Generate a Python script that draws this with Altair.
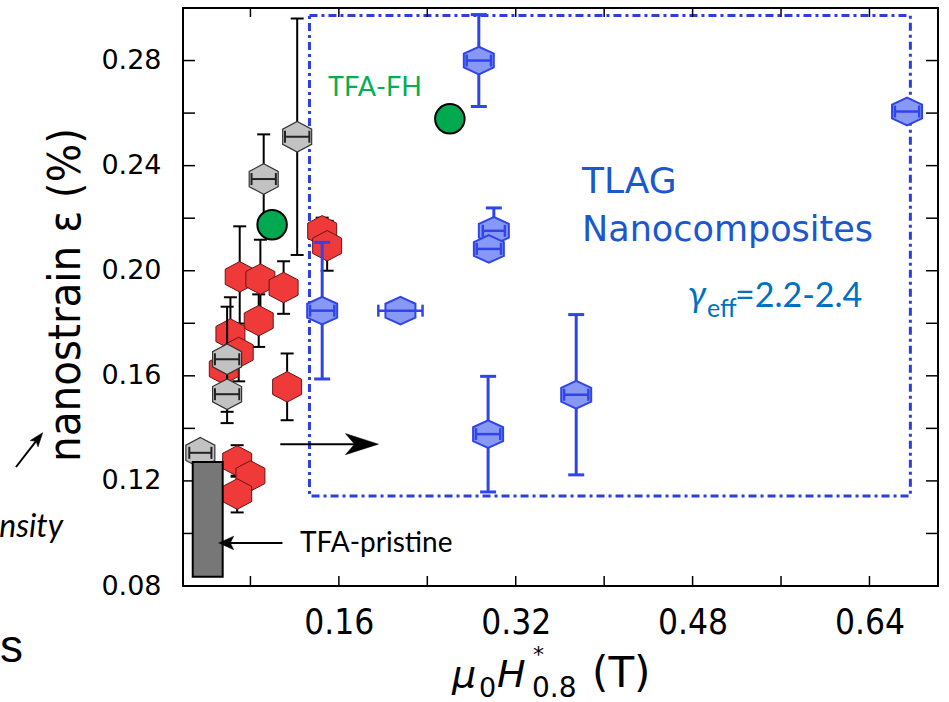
import altair as alt
import pandas as pd

# ---------------- data: mu0*H*_0.8 (T) vs nanostrain (%) ----------------
red_x = [0.0703, 0.0890, 0.1100, 0.1449, 0.1494, 0.0875, 0.0619, 0.0694, 0.0559, 0.1132, 0.0680, 0.0800, 0.0680]
red_y = [0.1977, 0.1968, 0.1936, 0.2152, 0.2095, 0.1810, 0.1759, 0.1689, 0.1626, 0.1558, 0.1276, 0.1219, 0.1150]
red_err = [0.0192, 0.0150, 0.0100, 0.0050, 0.0095, 0.0100, 0.0140, 0.0110, 0.0070, 0.0127, 0.0060, 0.0040, 0.0070]

gray_x = [0.0347, 0.0589, 0.0589, 0.0920, 0.1223]
gray_y = [0.1307, 0.1663, 0.1530, 0.2349, 0.2510]
gray_err = [0.0020, 0.0200, 0.0110, 0.0170, 0.0450]
gray_xerr = [0.010, 0.011, 0.011, 0.011, 0.011]

blue_x = [0.2866, 0.3002, 0.2957, 0.1449, 0.2157, 0.2950, 0.3747, 0.6740]
blue_y = [0.2800, 0.2152, 0.2083, 0.1848, 0.1848, 0.1378, 0.1528, 0.2606]
blue_err = [0.0175, 0.0087, 0.0030, 0.0260, 0.0030, 0.0220, 0.0305, 0.0020]
blue_xerr = [0.011, 0.010, 0.011, 0.011, 0.020, 0.011, 0.011, 0.011]

green_x = [0.0996, 0.2604]
green_y = [0.2175, 0.2578]

pristine_x = [0.0278, 0.0549]
pristine_y = [0.0835, 0.1272]

tlag_box_x = [0.1334, 0.6770]
tlag_box_y = [0.1143, 0.2971]

x_ticks = [0.08, 0.16, 0.24, 0.32, 0.40, 0.48, 0.56, 0.64]
y_ticks = [0.10, 0.12, 0.14, 0.16, 0.18, 0.20, 0.22, 0.24, 0.26, 0.28]
x_labels = [0.16, 0.32, 0.48, 0.64]
y_labels = [0.08, 0.12, 0.16, 0.20, 0.24, 0.28]

# ---------------- layout ----------------
LEFT, TOP, W, H = 183, 8, 755, 578
X_DOM = [0.019, 0.702]
Y_DOM = [0.08, 0.30]
PX_X = W / (X_DOM[1] - X_DOM[0])
PX_Y = H / (Y_DOM[1] - Y_DOM[0])

NARROW = "Liberation Sans Narrow, DejaVu Sans Condensed, Liberation Sans, sans-serif"
WIDE = "DejaVu Sans, sans-serif"
CAL = "Lato, Open Sans, sans-serif"

xs = alt.Scale(domain=X_DOM, nice=False, zero=False)
ys = alt.Scale(domain=Y_DOM, nice=False, zero=False)
x_axis = alt.Axis(values=x_labels, format=".2f", ticks=False, domain=False, grid=False,
                  labelFont=NARROW, labelFontSize=35, labelPadding=19, labelColor="black",
                  title=None)
y_axis = alt.Axis(values=y_labels, format=".2f", ticks=False, domain=False, grid=False,
                  labelFont=WIDE, labelFontSize=27, labelPadding=22, labelColor="black",
                  title=None)


def X(f):
    return alt.X(f, type="quantitative", scale=xs, axis=x_axis)


def Y(f):
    return alt.Y(f, type="quantitative", scale=ys, axis=y_axis)


HEX = "M0,-1L0.95,-0.5L0.95,0.5L0,1L-0.95,0.5L-0.95,-0.5Z"
HEX_FLAT = "M0,-0.92L1,-0.46L1,0.46L0,0.92L-1,0.46L-1,-0.46Z"
RIGHT_HEAD = "M1,0L-1,-0.64L-0.45,0L-1,0.64Z"
LEFT_HEAD = "M-1,0L1,-0.9L0.55,0L1,0.9Z"
UP_HEAD = "M0,-1L0.72,1L0,0.55L-0.72,1Z"


def y_errorbars(xv, yv, ev, color, width, cap_px):
    half = cap_px / 2 / PX_X
    d = pd.DataFrame({"x": xv, "y": yv, "e": ev})
    d["lo"] = d["y"] - d["e"]
    d["hi"] = d["y"] + d["e"]
    d["cl"] = d["x"] - half
    d["cr"] = d["x"] + half
    base = alt.Chart(d)
    out = [base.mark_rule(color=color, strokeWidth=width).encode(x=X("x"), y=Y("lo"), y2="hi")]
    for end in ("lo", "hi"):
        out.append(base.mark_rule(color=color, strokeWidth=width).encode(x=X("cl"), x2="cr", y=Y(end)))
    return out


def x_errorbars(xv, yv, ev, color, width, cap_px):
    half = cap_px / 2 / PX_Y
    d = pd.DataFrame({"x": xv, "y": yv, "e": ev})
    d["lo"] = d["x"] - d["e"]
    d["hi"] = d["x"] + d["e"]
    d["cb"] = d["y"] - half
    d["ct"] = d["y"] + half
    base = alt.Chart(d)
    out = [base.mark_rule(color=color, strokeWidth=width).encode(x=X("lo"), x2="hi", y=Y("y"))]
    for end in ("lo", "hi"):
        out.append(base.mark_rule(color=color, strokeWidth=width).encode(x=X(end), y=Y("cb"), y2="ct"))
    return out


def markers(xv, yv, shape, size, fill, stroke, sw):
    return alt.Chart(pd.DataFrame({"x": xv, "y": yv})).mark_point(
        shape=shape, size=size, filled=True, fill=fill, stroke=stroke,
        strokeWidth=sw, opacity=1, fillOpacity=1, strokeOpacity=1
    ).encode(x=X("x"), y=Y("y"))


def txt(s, x, y, size, font, color="black", style=None, align="left", angle=None):
    kw = dict(fontSize=size, font=font, color=color, align=align, baseline="alphabetic")
    if style:
        kw["fontStyle"] = style
    if angle:
        kw["angle"] = angle
    return alt.Chart(pd.DataFrame({"t": [s]})).mark_text(**kw).encode(
        text="t:N", x=alt.value(x - LEFT), y=alt.value(y - TOP))


layers = []

# dashed frame around the TLAG nanocomposites
layers.append(alt.Chart(pd.DataFrame({"x": [tlag_box_x[0]], "x2": [tlag_box_x[1]],
                                      "y": [tlag_box_y[0]], "y2": [tlag_box_y[1]]}))
              .mark_rect(fillOpacity=0, stroke="#2b3fe0", strokeWidth=3, strokeDash=[8, 4, 3, 4])
              .encode(x=X("x"), x2="x2", y=Y("y"), y2="y2"))

# inward ticks on all four sides
xt = alt.Chart(pd.DataFrame({"v": x_ticks}))
yt = alt.Chart(pd.DataFrame({"v": y_ticks}))
layers += [
    xt.mark_rule(color="black", strokeWidth=1.5).encode(x=X("v"), y=alt.value(H), y2=alt.value(H - 10)),
    xt.mark_rule(color="black", strokeWidth=1.5).encode(x=X("v"), y=alt.value(0), y2=alt.value(9)),
    yt.mark_rule(color="black", strokeWidth=1.5).encode(y=Y("v"), x=alt.value(0), x2=alt.value(12)),
    yt.mark_rule(color="black", strokeWidth=1.5).encode(y=Y("v"), x=alt.value(W), x2=alt.value(W - 12)),
]

# red series
layers += y_errorbars(red_x, red_y, red_err, "black", 2, 13)
layers.append(markers(red_x, red_y, HEX, 930, "#f03a3a", "#6b1414", 1))

# gray series
layers += y_errorbars(gray_x, gray_y, gray_err, "black", 2, 13)
layers.append(markers(gray_x, gray_y, HEX, 930, "#c2c2c2", "#333333", 1.2))
layers += x_errorbars(gray_x, gray_y, gray_xerr, "#222222", 2, 12)

# blue series
layers += y_errorbars(blue_x, blue_y, blue_err, "#2f45e8", 3, 16)
layers.append(markers(blue_x, blue_y, HEX_FLAT, 900, "#8898f5", "#2f45e8", 2))
layers += x_errorbars(blue_x, blue_y, blue_xerr, "#2f45e8", 2.5, 12)

# green TFA-FH points
layers.append(markers(green_x, green_y, "circle", 870, "#00a84f", "black", 2))

# TFA-pristine reference bar
layers.append(alt.Chart(pd.DataFrame({"x": [pristine_x[0]], "x2": [pristine_x[1]],
                                      "y": [pristine_y[0]], "y2": [pristine_y[1]]}))
              .mark_rect(fill="#777777", stroke="black", strokeWidth=2)
              .encode(x=X("x"), x2="x2", y=Y("y"), y2="y2"))

# arrows
ARROW_Y, ARROW_X0, ARROW_TIP = 0.134, 0.107, 0.1958
PR_Y, PR_X0, PR_TIP = 0.0964, 0.109, 0.0513
arrow_df = pd.DataFrame({"x": [ARROW_X0], "x2": [ARROW_TIP - 0.012], "y": [ARROW_Y]})
layers.append(alt.Chart(arrow_df).mark_rule(color="black", strokeWidth=2)
              .encode(x=X("x"), x2="x2", y=Y("y")))
layers.append(markers([ARROW_TIP - 16.5 / PX_X], [ARROW_Y], RIGHT_HEAD, 1089, "black", "black", 0.5))
pr_df = pd.DataFrame({"x": [PR_X0], "x2": [PR_TIP + 0.007], "y": [PR_Y]})
layers.append(alt.Chart(pr_df).mark_rule(color="black", strokeWidth=2)
              .encode(x=X("x"), x2="x2", y=Y("y")))
layers.append(markers([PR_TIP + 7.5 / PX_X], [PR_Y], LEFT_HEAD, 225, "black", "black", 0.5))

# annotations inside the plot
layers += [
    txt("TFA-FH", 328, 96, 27, CAL, color="#00b050"),
    txt("TLAG", 582, 193, 36, WIDE, color="#1a58cc"),
    txt("Nanocomposites", 582, 241, 35, WIDE, color="#1a58cc"),
    txt("\u03b3", 688, 307, 36, CAL, color="#0070c0", style="italic"),
    txt("eff", 707, 317, 25, CAL, color="#0070c0"),
    txt("=2.2-2.4", 735, 307, 34, CAL, color="#0070c0"),
    txt("TFA-pristine", 300, 552, 28, CAL),
]

# axis titles
layers.append(txt("nanostrain \u03b5 (%)", 80, 295, 45, NARROW, align="center", angle=270))
layers += [
    txt("\u03bc", 452, 687, 38, WIDE, style="italic"),
    txt("0", 479, 697, 27, WIDE),
    txt("H", 497, 687, 38, WIDE, style="italic"),
    txt("*", 533, 662, 22, WIDE),
    txt("0.8", 532, 697, 28, WIDE),
    txt("(T)", 592, 687, 42, WIDE),
]

# neighbouring-panel fragments at the left margin
layers.append(txt("nsity", 63, 537, 32, CAL, style="italic", align="right"))
layers.append(txt("s", 0, 662, 46, "Liberation Sans, sans-serif"))
layers.append(alt.Chart(pd.DataFrame({"a": [0]})).mark_rule(color="black", strokeWidth=2).encode(
    x=alt.value(16 - LEFT), y=alt.value(467 - TOP), x2=alt.value(38.4 - LEFT), y2=alt.value(438.2 - TOP)))
layers.append(alt.Chart(pd.DataFrame({"a": [0]})).mark_point(
    shape=UP_HEAD, size=196, filled=True, fill="black", stroke="black", strokeWidth=0.5,
    opacity=1, angle=38).encode(x=alt.value(38.4 - LEFT), y=alt.value(438.2 - TOP)))

chart = alt.layer(*layers).properties(
    width=W, height=H,
    autosize=alt.AutoSizeParams(type="none"),
    padding={"left": LEFT, "top": TOP, "right": 949 - LEFT - W, "bottom": 702 - TOP - H},
    background="white",
).configure_view(stroke="black", strokeWidth=2)

chart.save("out.html", embed_options={"renderer": "svg", "actions": False})
